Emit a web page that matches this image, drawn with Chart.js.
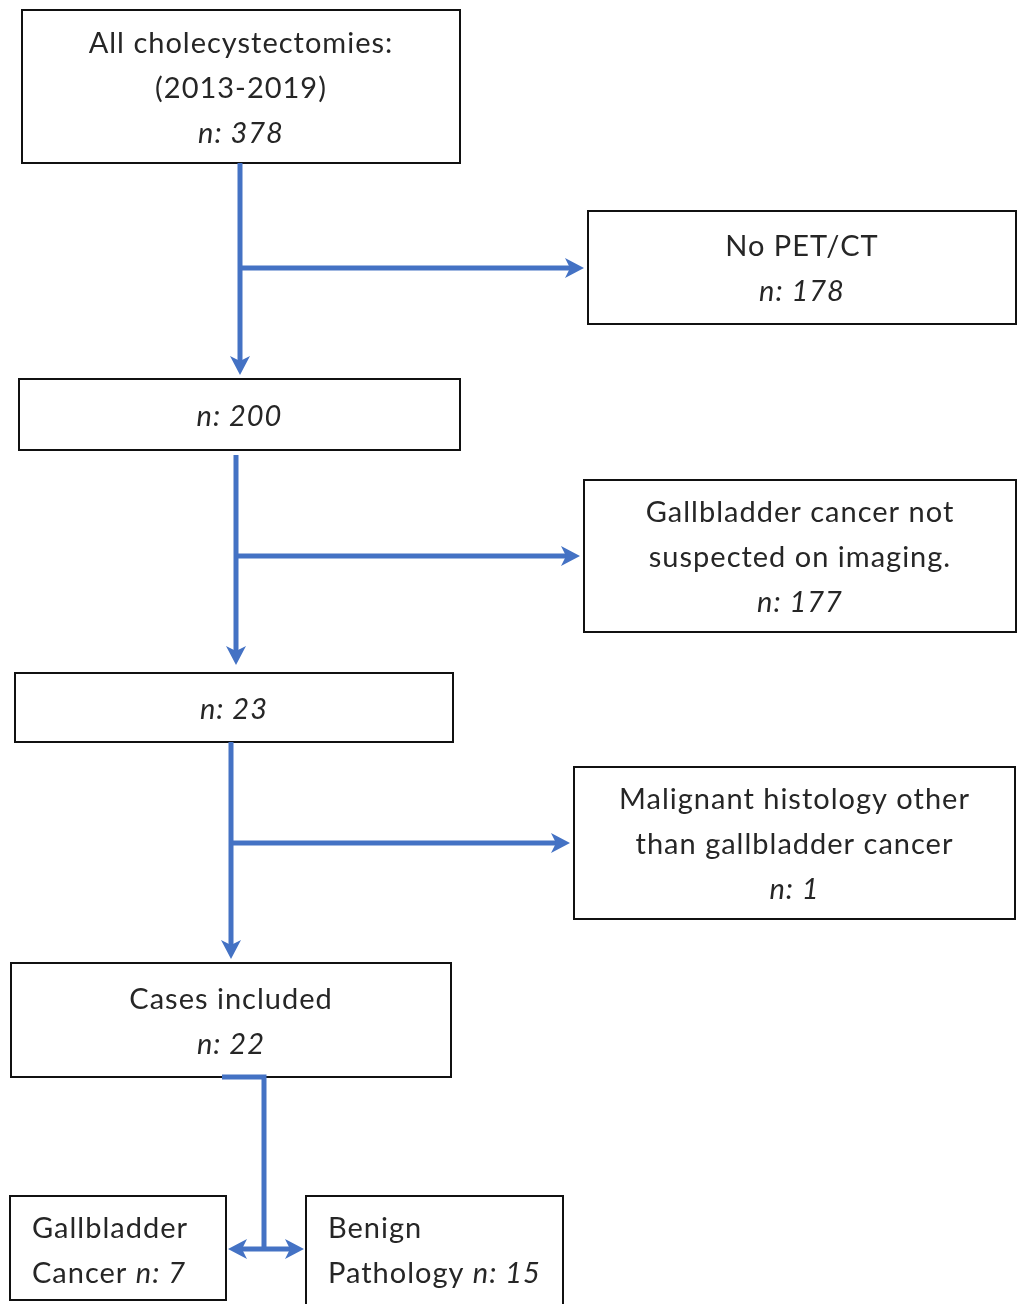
<!DOCTYPE html>
<html lang="en">
<head>
    <meta charset="UTF-8">
    <title>Cholecystectomy flowchart</title>
    <style>
        body { margin: 0; background: #fff; }
        canvas { display: block; }
    </style>
    <script src="https://cdn.jsdelivr.net/npm/chart.js"></script>
</head>
<body>
    <canvas id="flowChart" width="1017" height="1304"></canvas>

    <script>
        // flow data
        const stageTitles = ['All cholecystectomies:\n(2013-2019)', '', '', 'Cases included'];
        const stageCounts = [378, 200, 23, 22];
        const excludedTitles = ['No PET/CT', 'Gallbladder cancer not\nsuspected on imaging.', 'Malignant histology other\nthan gallbladder cancer'];
        const excludedCounts = [178, 177, 1];
        const outcomeTitles = ['Gallbladder\nCancer', 'Benign\nPathology'];
        const outcomeCounts = [7, 15];

        // layout in chart units (x: 0..1017, y: 0..1304 from top)
        const stageBoxes = [[22, 10, 460, 163], [19, 379, 460, 450], [15, 673, 453, 742], [11, 963, 451, 1077]];
        const excludedBoxes = [[588, 211, 1016, 324], [584, 480, 1016, 632], [574, 767, 1015, 919]];
        const outcomeBoxes = [[10, 1196, 226, 1300], [306, 1196, 563, 1306]];
        const trunkX = [240, 236, 231];
        const branchY = [268, 556, 843];

        const blue = '#4472c4';
        const ink = '#262626';
        const fontFamily = 'Lato, "Open Sans", sans-serif';
        const fontSize = 29;
        const lineGap = 45;

        function drawSegments(ctx, segs, x, y, align) {
            // segs: [[text, italic], ...]
            ctx.letterSpacing = '1px';
            let widths = segs.map(s => {
                ctx.font = (s[1] ? 'italic ' : '') + fontSize + 'px ' + fontFamily;
                return ctx.measureText(s[0]).width;
            });
            let total = widths.reduce((a, b) => a + b, 0);
            let cx = align === 'center' ? x - total / 2 : x;
            segs.forEach((s, i) => {
                ctx.font = (s[1] ? 'italic ' : '') + fontSize + 'px ' + fontFamily;
                ctx.fillText(s[0], cx, y);
                cx += widths[i];
            });
        }

        function arrowHead(ctx, x, y, dir) {
            const len = 19, half = 10, notch = 5;
            ctx.beginPath();
            if (dir === 'down') {
                ctx.moveTo(x, y); ctx.lineTo(x - half, y - len); ctx.lineTo(x, y - len + notch); ctx.lineTo(x + half, y - len);
            } else if (dir === 'right') {
                ctx.moveTo(x, y); ctx.lineTo(x - len, y - half); ctx.lineTo(x - len + notch, y); ctx.lineTo(x - len, y + half);
            } else {
                ctx.moveTo(x, y); ctx.lineTo(x + len, y - half); ctx.lineTo(x + len - notch, y); ctx.lineTo(x + len, y + half);
            }
            ctx.closePath();
            ctx.fill();
        }

        const flowPlugin = {
            id: 'flow',
            afterDraw(chart) {
                const ctx = chart.ctx;
                const sx = v => chart.scales.x.getPixelForValue(v);
                const sy = v => chart.scales.y.getPixelForValue(v);

                ctx.save();
                ctx.textBaseline = 'middle';
                ctx.fillStyle = ink;

                function box(b) {
                    ctx.strokeStyle = '#111';
                    ctx.lineWidth = 2;
                    ctx.strokeRect(sx(b[0]), sy(b[1]), sx(b[2]) - sx(b[0]), sy(b[3]) - sy(b[1]));
                }

                function centredText(b, title, count) {
                    const lines = title ? title.split('\n').map(t => [[t, false]]) : [];
                    lines.push([['n: ' + count, true]]);
                    const cxp = (sx(b[0]) + sx(b[2])) / 2;
                    const cyp = (sy(b[1]) + sy(b[3])) / 2 + 2;
                    const top = cyp - (lines.length - 1) * lineGap / 2;
                    ctx.fillStyle = ink;
                    lines.forEach((l, i) => drawSegments(ctx, l, cxp, top + i * lineGap, 'center'));
                }

                stageBoxes.forEach((b, i) => { box(b); centredText(b, stageTitles[i], stageCounts[i]); });
                excludedBoxes.forEach((b, i) => { box(b); centredText(b, excludedTitles[i], excludedCounts[i]); });

                // outcome boxes, left aligned, count on second line
                outcomeBoxes.forEach((b, i) => {
                    box(b);
                    const parts = outcomeTitles[i].split('\n');
                    const lx = sx(b[0]) + 22;
                    drawSegments(ctx, [[parts[0], false]], lx, sy(1229), 'left');
                    drawSegments(ctx, [[parts[1] + ' ', false], ['n: ' + outcomeCounts[i], true]], lx, sy(1274), 'left');
                });

                // connectors
                ctx.strokeStyle = blue;
                ctx.fillStyle = blue;
                ctx.lineWidth = 5;
                ctx.lineCap = 'butt';
                trunkX.forEach((x, i) => {
                    const yTop = stageBoxes[i][3] + (i === 1 ? 5 : 0);
                    const yBot = stageBoxes[i + 1][1] - (i === 1 ? 8 : 4);
                    ctx.beginPath();
                    ctx.moveTo(sx(x), sy(yTop));
                    ctx.lineTo(sx(x), sy(yBot) - 12);
                    ctx.stroke();
                    arrowHead(ctx, sx(x), sy(yBot), 'down');
                    const tip = excludedBoxes[i][0] - 4;
                    ctx.beginPath();
                    ctx.moveTo(sx(x), sy(branchY[i]));
                    ctx.lineTo(sx(tip) - 12, sy(branchY[i]));
                    ctx.stroke();
                    arrowHead(ctx, sx(tip), sy(branchY[i]), 'right');
                });

                // split to outcomes
                const splitX = 264, splitY = 1249;
                ctx.beginPath();
                ctx.moveTo(sx(222), sy(stageBoxes[3][3]));
                ctx.lineTo(sx(splitX), sy(stageBoxes[3][3]));
                ctx.lineTo(sx(splitX), sy(splitY));
                ctx.stroke();
                ctx.beginPath();
                ctx.moveTo(sx(outcomeBoxes[0][2] + 14), sy(splitY));
                ctx.lineTo(sx(outcomeBoxes[1][0] - 14), sy(splitY));
                ctx.stroke();
                arrowHead(ctx, sx(outcomeBoxes[0][2] + 2), sy(splitY), 'left');
                arrowHead(ctx, sx(outcomeBoxes[1][0] - 2), sy(splitY), 'right');

                ctx.restore();
            }
        };

        new Chart(document.getElementById('flowChart'), {
            type: 'scatter',
            data: { datasets: [] },
            options: {
                responsive: false,
                animation: false,
                layout: { padding: 0 },
                plugins: { legend: { display: false }, tooltip: { enabled: false } },
                scales: {
                    x: { type: 'linear', min: 0, max: 1017, display: false },
                    y: { type: 'linear', min: 0, max: 1304, reverse: true, display: false }
                }
            },
            plugins: [flowPlugin]
        });
    </script>
</body>
</html>
